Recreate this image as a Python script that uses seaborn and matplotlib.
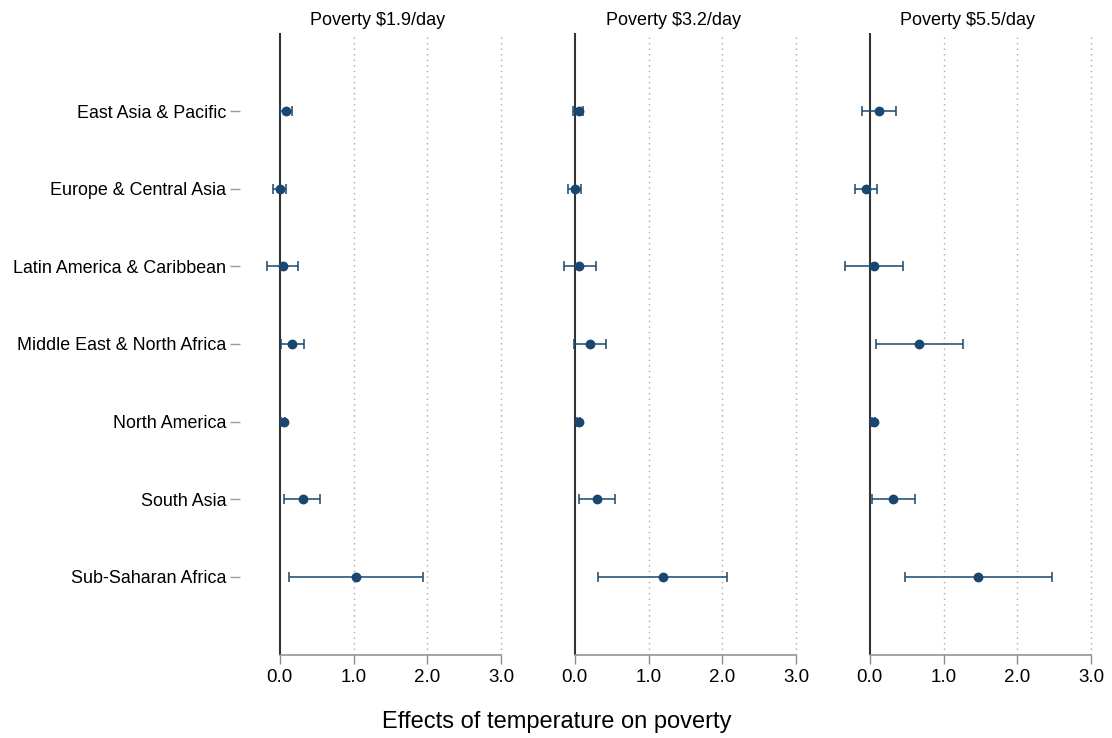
import matplotlib
matplotlib.use("Agg")
import matplotlib.pyplot as plt
import seaborn as sns
import pandas as pd
import numpy as np

sns.set_style("white")
plt.rcParams["font.family"] = ["Liberation Sans", "DejaVu Sans"]
plt.rcParams["text.color"] = "black"
plt.rcParams["xtick.color"] = "black"
plt.rcParams["ytick.color"] = "black"

regions = [
    "East Asia & Pacific",
    "Europe & Central Asia",
    "Latin America & Caribbean",
    "Middle East & North Africa",
    "North America",
    "South Asia",
    "Sub-Saharan Africa",
]

panel_titles = ["Poverty $1.9/day", "Poverty $3.2/day", "Poverty $5.5/day"]

# point estimates and 95% confidence bounds for each poverty line
est_190 = [0.08, 0.00, 0.04, 0.17, 0.05, 0.31, 1.03]
lo_190 = [0.00, -0.09, -0.18, 0.01, 0.02, 0.06, 0.13]
hi_190 = [0.16, 0.08, 0.24, 0.33, 0.07, 0.55, 1.94]

est_320 = [0.05, 0.00, 0.06, 0.20, 0.05, 0.30, 1.19]
lo_320 = [-0.02, -0.09, -0.15, -0.01, 0.03, 0.05, 0.32]
hi_320 = [0.11, 0.08, 0.28, 0.42, 0.07, 0.54, 2.06]

est_550 = [0.13, -0.05, 0.06, 0.67, 0.05, 0.32, 1.47]
lo_550 = [-0.10, -0.20, -0.33, 0.08, 0.03, 0.03, 0.47]
hi_550 = [0.35, 0.10, 0.45, 1.26, 0.07, 0.61, 2.47]

x_ticks = [0.0, 1.0, 2.0, 3.0]
x_tick_labels = ["0.0", "1.0", "2.0", "3.0"]
x_title = "Effects of temperature on poverty"

panels = [
    (est_190, lo_190, hi_190),
    (est_320, lo_320, hi_320),
    (est_550, lo_550, hi_550),
]

navy = "#1a476f"
W, H = 1112, 738
fig = plt.figure(figsize=(W / 100, H / 100), dpi=100)

ax_left_px = [240, 535, 830]
ax_w_px = 276
top_px, bot_px = 33.4, 654.6

for i, ((est, lo, hi), title) in enumerate(zip(panels, panel_titles)):
    ax = fig.add_axes([ax_left_px[i] / W, 1 - bot_px / H, ax_w_px / W, (bot_px - top_px) / H])
    df = pd.DataFrame({
        "region": regions,
        "pos": np.arange(1, len(regions) + 1),
        "est": est, "lo": lo, "hi": hi,
    })
    # dotted reference grid and the zero line
    for xv in x_ticks[1:]:
        ax.axvline(xv, color="#a8a8a8", lw=1.0, ls=(0, (1, 3)), zorder=0)
    ax.axvline(0, color="#333333", lw=1.5, zorder=1)

    ax.errorbar(df["est"], df["pos"],
                xerr=[df["est"] - df["lo"], df["hi"] - df["est"]],
                fmt="none", ecolor=navy, elinewidth=1.1, capsize=3.6,
                capthick=1.1, zorder=2)
    sns.scatterplot(data=df, x="est", y="pos", ax=ax, color=navy, s=50,
                    edgecolor=navy, linewidth=0, zorder=3, legend=False)

    ax.set_xlim(-0.54, 3.2)
    ax.set_ylim(8, 0)
    for side in ["top", "right", "left"]:
        ax.spines[side].set_visible(False)
    ax.spines["bottom"].set_bounds(0, 3)
    ax.spines["bottom"].set_color("#8c8c8c")
    ax.spines["bottom"].set_linewidth(1.1)
    ax.set_xticks(x_ticks)
    ax.set_xticklabels(x_tick_labels)
    ax.tick_params(axis="x", bottom=True, direction="out", length=6.5, width=1.0,
                   color="#8c8c8c", labelcolor="black", pad=4, labelsize=13.5)
    ax.set_xlabel("")
    ax.set_ylabel("")
    ax.set_title(title, fontsize=13, pad=6, color="black")
    if i == 0:
        ax.set_yticks(df["pos"])
        ax.set_yticklabels(regions)
        ax.tick_params(axis="y", left=True, direction="out", length=7, width=1.0,
                       color="#999999", labelcolor="black", pad=3, labelsize=12.9)
    else:
        ax.set_yticks([])
    ax.patch.set_alpha(0)

fig.text(557 / W, 1 - 722 / H, x_title, ha="center", va="center",
         fontsize=17, color="black")
fig.savefig("out.png", dpi=100, facecolor="white")
